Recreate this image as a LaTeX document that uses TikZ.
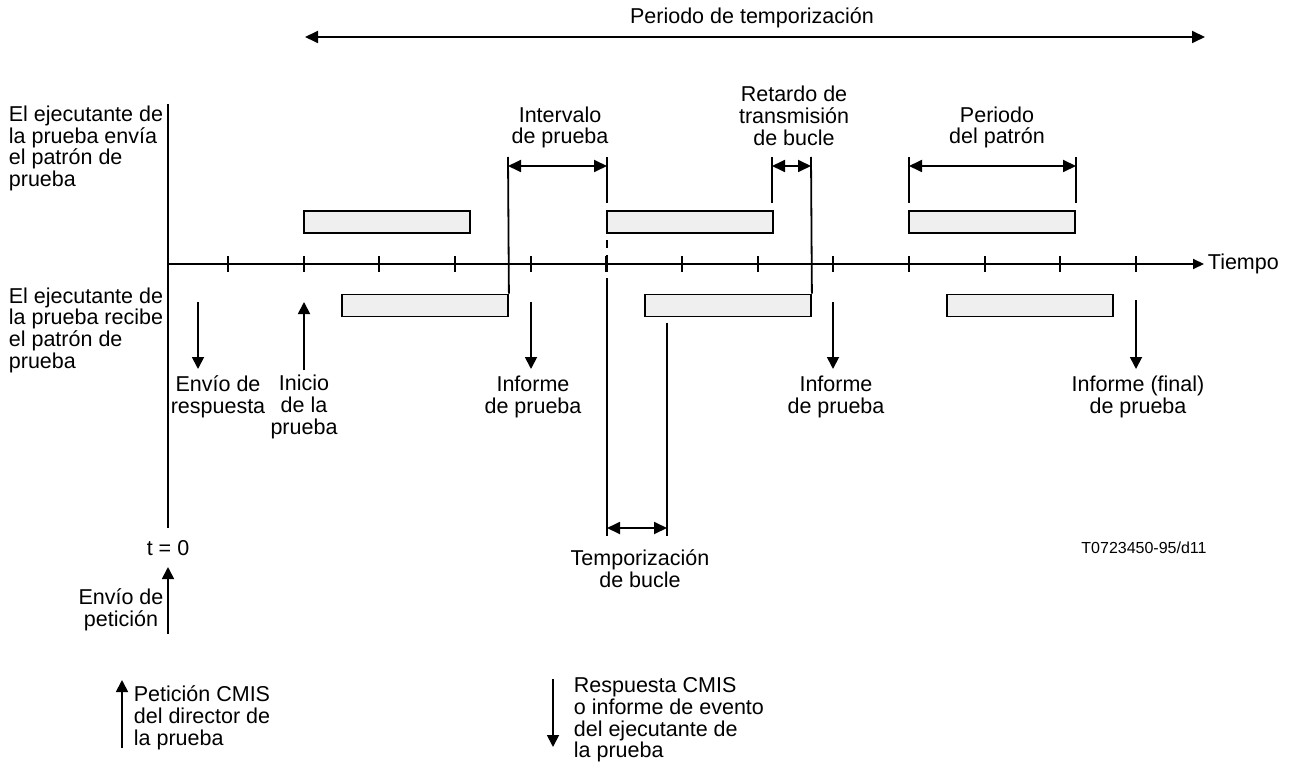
\documentclass[tikz,border=0pt]{standalone}
\usepackage{fontspec}
\setmainfont{Liberation Sans}
\usetikzlibrary{arrows.meta}
\definecolor{boxgray}{HTML}{EFEFEF}
\begin{document}
\begin{tikzpicture}[x=1pt,y=-1pt, line width=1.8pt,
  lbl/.style={font=\fontsize{21.5}{21.7}\selectfont, inner sep=0pt, align=center},
  lblL/.style={lbl, align=left},
  small/.style={font=\fontsize{16}{18}\selectfont, inner sep=0pt},
  pbox/.style={draw, fill=boxgray, minimum width=166pt, minimum height=22pt, inner sep=0pt, line width=1.8pt},
  arr/.style={-{Triangle[length=12pt,width=12pt]}},
  darr/.style={{Triangle[length=13pt,width=12pt]}-{Triangle[length=13pt,width=12pt]}},
  tarr/.style={-{Triangle[length=11pt,width=10pt]}},
]
\useasboundingbox (0,0) rectangle (1292,762);

% ---- title arrow
\node[lbl] (ttitle) at (752,18) {Periodo de temporización};
\coordinate (tl) at (305,37);
\coordinate (tr) at (1205,37);
\draw[darr] (tl) -- (tr);

% ---- axes
\coordinate (o) at (168,264);
\node[lbl, anchor=west] (tiempo) at (1207,264) {Tiempo};
\coordinate (tip) at (1204,264);
\draw[tarr] (o) -- (tip);
\coordinate (vtop) at (168,104);
\coordinate (vbot) at (168,528);
\draw (vtop) -- (vbot);
\foreach \i in {0,...,12} \draw ({228+75.67*\i},256) -- ({228+75.67*\i},272);

% ---- side labels
\node[lblL, anchor=west] (send) at (8,148.5) {El ejecutante de\\la prueba envía\\el patrón de\\prueba};
\node[lblL, anchor=west] (recv) at (8,330) {El ejecutante de\\la prueba recibe\\el patrón de\\prueba};

% ---- boxes
\node[pbox] (s1) at (387,222) {};
\node[pbox] (s2) at (690,222) {};
\node[pbox] (s3) at (992,222) {};
\node[pbox] (r1) at (425,305.5) {};
\node[pbox] (r2) at (728,305.5) {};
\node[pbox] (r3) at (1030,305.5) {};

% ---- vertical guide lines
\coordinate (g1) at (508,157);
\draw (g1) -- (r1.north east);
\coordinate (g2) at (607,157);
\coordinate (g2a) at (607,203);
\draw (g2) -- (g2a);
\coordinate (g2b) at (607,240);
\coordinate (g2c) at (607,248);
\draw (g2b) -- (g2c);
\coordinate (g2d) at (607,255);
\coordinate (g2e) at (607,272);
\draw (g2d) -- (g2e);
\coordinate (g2f) at (607,278);
\coordinate (g2g) at (607,536);
\draw (g2f) -- (g2g);
\coordinate (g3) at (772,157);
\coordinate (g3a) at (772,203);
\draw (g3) -- (g3a);
\coordinate (g4) at (811,157);
\draw (g4) -- (r2.north east);
\coordinate (g5) at (667,323);
\coordinate (g5a) at (667,536);
\draw (g5) -- (g5a);
\coordinate (g6) at (909,157);
\coordinate (g6a) at (909,203);
\draw (g6) -- (g6a);
\coordinate (g7) at (1076,157);
\coordinate (g7a) at (1076,203);
\draw (g7) -- (g7a);

% ---- dimension arrows
\coordinate (d1a) at (508,166);
\coordinate (d1b) at (607,166);
\draw[darr] (d1a) -- (d1b);
\node[lbl] (interv) at (560,127.5) {Intervalo\\de prueba};
\coordinate (d2a) at (772,166);
\coordinate (d2b) at (811,166);
\draw[darr] (d2a) -- (d2b);
\node[lbl] (retardo) at (794,116) {Retardo de\\transmisión\\de bucle};
\coordinate (d3a) at (909,166);
\coordinate (d3b) at (1076,166);
\draw[darr] (d3a) -- (d3b);
\node[lbl] (patron) at (997,127.5) {Periodo\\del patrón};
\coordinate (d4a) at (607,528);
\coordinate (d4b) at (667,528);
\draw[darr] (d4a) -- (d4b);
\node[lbl] (tempo) at (640,569) {Temporización\\de bucle};

% ---- event arrows
\coordinate (e1a) at (198,302);
\coordinate (e1b) at (198,369);
\draw[arr] (e1a) -- (e1b);
\node[lbl] (envresp) at (218,397) {Envío de\\respuesta};
\coordinate (e2a) at (304,370);
\coordinate (e2b) at (304,302);
\draw[arr] (e2a) -- (e2b);
\node[lbl] (inicio) at (304,407) {Inicio\\de la\\prueba};
\coordinate (e3a) at (531,302);
\coordinate (e3b) at (531,369);
\draw[arr] (e3a) -- (e3b);
\node[lbl] (inf1) at (533,397) {Informe\\de prueba};
\coordinate (e4a) at (833,302);
\coordinate (e4b) at (833,369);
\draw[arr] (e4a) -- (e4b);
\node[lbl] (inf2) at (836,397) {Informe\\de prueba};
\coordinate (e5a) at (1136,300);
\coordinate (e5b) at (1136,369);
\draw[arr] (e5a) -- (e5b);
\node[lbl] (inf3) at (1138,397) {Informe (final)\\de prueba};

% ---- t = 0
\node[lbl] (t0) at (168,548) {t = 0};
\coordinate (req) at (168,634);
\coordinate (reqtip) at (168,567);
\draw[arr] (req) -- (reqtip);
\node[lbl] (envpet) at (121,610) {Envío de\\petición};

\node[small] (ref) at (1144,548) {T0723450-95/d11};

% ---- legend
\coordinate (l1a) at (122,748);
\coordinate (l1b) at (122,680);
\draw[arr] (l1a) -- (l1b);
\node[lblL, anchor=west] (leg1) at (133,718) {Petición CMIS\\del director de\\la prueba};
\coordinate (l2a) at (553,679);
\coordinate (l2b) at (553,747);
\draw[arr] (l2a) -- (l2b);
\node[lblL, anchor=west] (leg2) at (573,720) {Respuesta CMIS\\o informe de evento\\del ejecutante de\\la prueba};
\end{tikzpicture}
\end{document}
